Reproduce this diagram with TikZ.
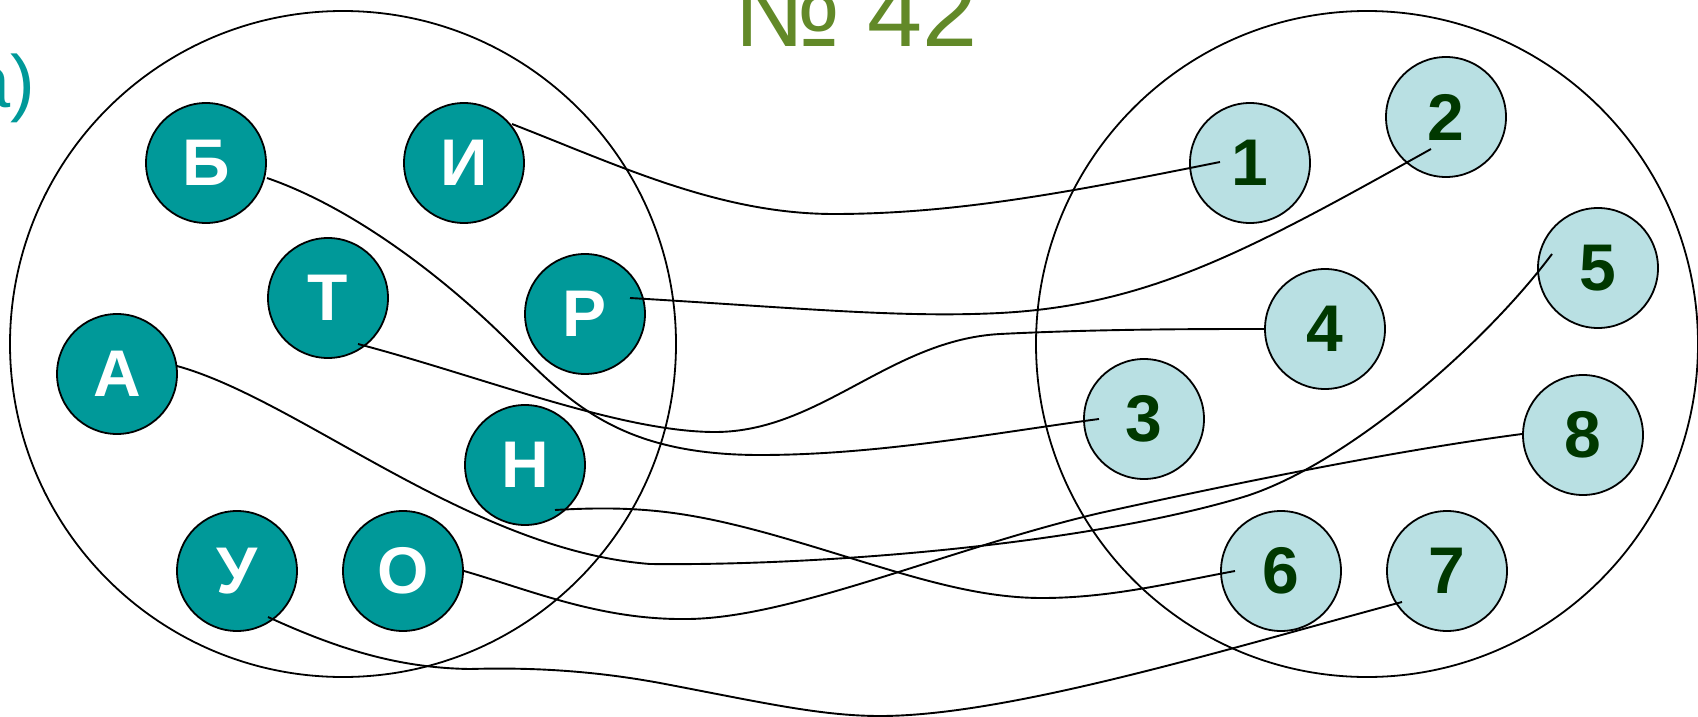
\documentclass[tikz,border=0pt]{standalone}
\usepackage{fontspec}
\setmainfont{Liberation Sans}
\usetikzlibrary{calc}
\definecolor{tealfill}{RGB}{0,153,153}
\definecolor{lightfill}{RGB}{185,224,227}
\definecolor{digitgreen}{RGB}{0,56,0}
\definecolor{titlegreen}{RGB}{98,137,40}
\tikzset{
  letterbox/.style={circle,draw=black,line width=1.8pt,fill=tealfill,minimum size=120pt,inner sep=0pt,
    text=white,font=\fontsize{66}{66}\selectfont\bfseries},
  digitbox/.style={circle,draw=black,line width=1.8pt,fill=lightfill,minimum size=120pt,inner sep=0pt,
    text=digitgreen,font=\fontsize{66}{66}\selectfont\bfseries},
  bigset/.style={draw=black,line width=1.8pt},
  link/.style={draw=black,line width=1.9pt}
}
\begin{document}
\begin{tikzpicture}[x=1pt,y=-1pt]
\useasboundingbox (0,0) rectangle (1698,717);
% sets
\draw[bigset] (343,344) circle [radius=333];
\draw[bigset] (1367,344) ellipse [x radius=331,y radius=333];
% title
\node[anchor=base,inner sep=0pt,text=titlegreen,font=\fontsize{99}{99}\selectfont] (title) at (856,47) {№ 42};
\node[anchor=base east,inner sep=0pt,text=tealfill,font=\fontsize{74}{74}\selectfont] (lab) at (35,107) {а)};
% letters
\node[letterbox] (nB) at (206,163) {Б};
\node[letterbox] (nI) at (464,163) {И};
\node[letterbox] (nT) at (328,298) {Т};
\node[letterbox] (nR) at (585,314) {Р};
\node[letterbox] (nA) at (117,374) {А};
\node[letterbox] (nH) at (525,465) {Н};
\node[letterbox] (nU) at (237,571) {У};
\node[letterbox] (nO) at (403,571) {О};
% digits
\node[digitbox] (d1) at (1250,163) {1};
\node[digitbox] (d2) at (1446,117) {2};
\node[digitbox] (d3) at (1144,419) {3};
\node[digitbox] (d4) at (1325,329) {4};
\node[digitbox] (d5) at (1598,268) {5};
\node[digitbox] (d6) at (1281,571) {6};
\node[digitbox] (d7) at (1447,571) {7};
\node[digitbox] (d8) at (1583,435) {8};
% connector ends
\coordinate (sI) at ($(nI)+(48,-39)$);
\coordinate (e1) at ($(d1)+(-30,-1)$);
\coordinate (sR) at ($(nR)+(45,-16)$);
\coordinate (e2) at ($(d2)+(-15,32)$);
\coordinate (sB) at ($(nB)+(61,15)$);
\coordinate (e3) at ($(d3)+(-45,0)$);
\coordinate (sT) at ($(nT)+(30,46)$);
\coordinate (e4) at ($(d4)+(-60,0)$);
\coordinate (sA) at ($(nA)+(60,-8)$);
\coordinate (e5) at ($(d5)+(-46,-14)$);
\coordinate (sH) at ($(nH)+(30,45)$);
\coordinate (e6) at ($(d6)+(-46,0)$);
\coordinate (sO) at ($(nO)+(61,0)$);
\coordinate (e8) at ($(d8)+(-61,-1)$);
\coordinate (sU) at ($(nU)+(31,46)$);
\coordinate (e7) at ($(d7)+(-45,31)$);
% connectors
\draw[link] (sI) .. controls (620,166) and (720,214) .. (834,214)
  .. controls (960,214) and (1080,190) .. (e1);
\draw[link] (sR) .. controls (800,308) and (900,318) .. (1000,313)
  .. controls (1150,305) and (1250,250) .. (e2);
\draw[link] (sB) .. controls (357,209) and (450,283) .. (510,343)
  .. controls (570,403) and (620,455) .. (760,455)
  .. controls (880,455) and (1000,432) .. (e3);
\draw[link] (sT) .. controls (480,376) and (620,432) .. (715,432)
  .. controls (820,432) and (890,340) .. (1000,334)
  .. controls (1100,329) and (1200,329) .. (e4);
\draw[link] (sA) .. controls (300,400) and (470,550) .. (650,564)
  .. controls (820,566) and (1080,545) .. (1240,498)
  .. controls (1340,469) and (1480,350) .. (e5);
\draw[link] (sH) .. controls (640,505) and (690,512) .. (770,534)
  .. controls (880,565) and (960,598) .. (1042,598)
  .. controls (1110,598) and (1170,583) .. (e6);
\draw[link] (sO) .. controls (530,590) and (600,620) .. (686,619)
  .. controls (790,619) and (950,548) .. (1100,513)
  .. controls (1250,480) and (1400,450) .. (e8);
\draw[link] (sU) .. controls (340,650) and (400,668) .. (470,669)
  .. controls (540,667) and (600,672) .. (660,683)
  .. controls (760,702) and (820,716) .. (880,716)
  .. controls (1010,716) and (1230,648) .. (e7);
\end{tikzpicture}
\end{document}
